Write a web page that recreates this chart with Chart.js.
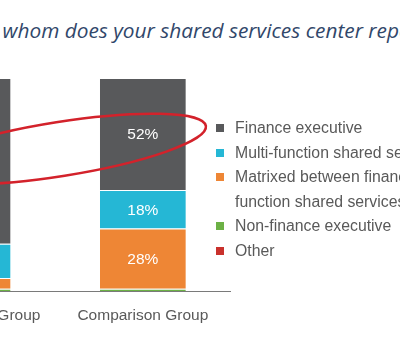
<!DOCTYPE html>
<html>
<head>
<meta charset="utf-8">
<script src="https://cdn.jsdelivr.net/npm/chart.js@4.4.0/dist/chart.umd.min.js"></script>
<style>
  html, body { margin: 0; padding: 0; background: #fff; }
  body { width: 400px; height: 341px; overflow: hidden; position: relative; }
  #titulo { position: absolute; top: 19px; left: 0; white-space: nowrap; font-family: 'Open Sans', sans-serif; font-style: italic; font-size: 19px; line-height: 22.8px; color: #31476a; }
  #marco { position: absolute; left: -140px; top: 0; width: 540px; height: 341px; }
  #leyenda { position: absolute; left: 216px; top: 116px; font-family: 'Liberation Sans', Arial, sans-serif; font-size: 15.8px; color: #595959; line-height: 24.5px; white-space: nowrap; }
  .item { position: relative; padding-left: 19px; }
  .cuadro { position: absolute; left: 0; top: 8px; width: 8px; height: 8px; }
</style>
</head>
<body>
<div id="titulo"><span id="inicio">To </span><span id="visible">whom does your shared services center rep</span>ort?</div>
<div id="marco"><canvas id="grafico" width="540" height="341"></canvas></div>
<div id="leyenda"></div>
<script>
// Datos
const categorias = ['Top Performer Group', 'Comparison Group'];
const series = [
  ['Finance executive'],
  ['Multi-function shared services leader'],
  ['Matrixed between finance and multi-', 'function shared services'],
  ['Non-finance executive'],
  ['Other']
];
const finanzas = [77, 52];
const multiFuncion = [16, 18];
const matricial = [5, 28];
const noFinanzas = [1, 1];
const otros = [0, 0];
const colores = ['#58595b', '#25b7d5', '#ee8635', '#6cb145', '#c9312c'];

// Ajustar el titulo: "whom ... rep" ocupa de x=3 hasta el borde derecho
const titulo = document.getElementById('titulo');
const visible = document.getElementById('visible');
titulo.style.fontSize = (19 * 397 / visible.offsetWidth) + 'px';
titulo.style.left = (3 - document.getElementById('inicio').offsetWidth) + 'px';

// Etiquetas de porcentaje dentro de las barras
const etiquetas = {
  id: 'etiquetas',
  afterDatasetsDraw(chart) {
    const ctx = chart.ctx;
    ctx.save();
    ctx.font = '15.5px "Liberation Sans", Arial, sans-serif';
    ctx.fillStyle = '#ffffff';
    ctx.textAlign = 'center';
    ctx.textBaseline = 'middle';
    chart.data.datasets.forEach((ds, i) => {
      chart.getDatasetMeta(i).data.forEach((barra, j) => {
        if (ds.data[j] < 10) return;
        const p = barra.getProps(['x', 'y', 'base'], true);
        ctx.fillText(ds.data[j] + '%', p.x, (p.y + p.base) / 2 + 1);
      });
    });
    ctx.restore();
  }
};

// Ovalo rojo dibujado a mano encima del grafico
const ovalo = {
  id: 'ovalo',
  afterDraw(chart) {
    const x = chart.scales.x, y = chart.scales.y;
    const paso = x.getPixelForValue(1) - x.getPixelForValue(0);
    const ctx = chart.ctx;
    ctx.save();
    ctx.beginPath();
    ctx.ellipse(x.getPixelForValue(0.53), y.getPixelForValue(66), paso * 0.84, 27, -9 * Math.PI / 180, 0, 2 * Math.PI);
    ctx.strokeStyle = '#d3222b';
    ctx.lineWidth = 2.5;
    ctx.stroke();
    ctx.restore();
  }
};

// Series de abajo hacia arriba
const pila = [otros, noFinanzas, matricial, multiFuncion, finanzas];
const datasets = pila.map((valores, k) => {
  const idx = series.length - 1 - k;
  return {
    label: series[idx].join(' '),
    data: valores,
    backgroundColor: colores[idx],
    borderColor: '#ffffff',
    borderWidth: { top: 1, bottom: 0, left: 0, right: 0 },
    borderSkipped: false,
    barPercentage: 0.49,
    categoryPercentage: 1
  };
});

const ctx = document.getElementById('grafico').getContext('2d');
const grafico = new Chart(ctx, {
  type: 'bar',
  data: { labels: categorias, datasets: datasets },
  options: {
    responsive: false,
    animation: false,
    layout: { padding: { left: 20, right: 169.5, top: 78, bottom: 0 } },
    plugins: { legend: { display: false }, tooltip: { enabled: false } },
    scales: {
      x: {
        stacked: true,
        grid: { display: false, drawTicks: false },
        border: { display: true, color: '#7a7a7a', width: 1 },
        ticks: { color: '#595959', font: { family: '"Liberation Sans", Arial, sans-serif', size: 15.5 }, padding: 15, maxRotation: 0, autoSkip: false },
        afterFit(scale) { scale.height = 50; }
      },
      y: { stacked: true, display: false, min: 0, max: 99 }
    }
  },
  plugins: [etiquetas, ovalo]
});

// Leyenda en HTML
const leyenda = document.getElementById('leyenda');
series.forEach((lineas, i) => {
  const item = document.createElement('div');
  item.className = 'item';
  const cuadro = document.createElement('span');
  cuadro.className = 'cuadro';
  cuadro.style.background = colores[i];
  item.appendChild(cuadro);
  lineas.forEach((texto, n) => {
    if (n > 0) item.appendChild(document.createElement('br'));
    item.appendChild(document.createTextNode(texto));
  });
  leyenda.appendChild(item);
});
</script>
</body>
</html>
